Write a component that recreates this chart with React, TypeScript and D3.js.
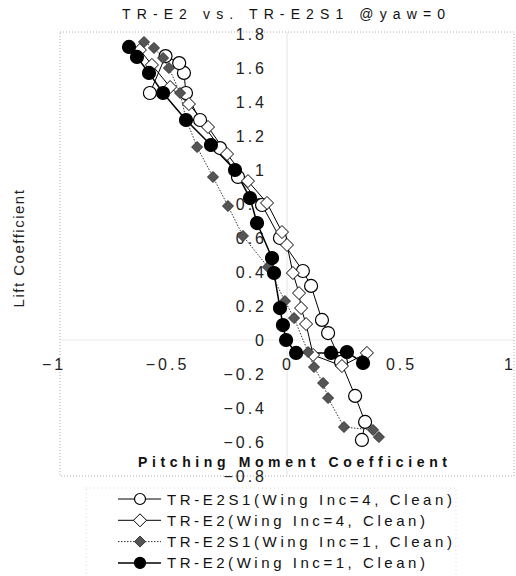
import React from 'react';
import * as d3 from 'd3';

// tick values
const xTicks = [-1, -0.5, 0, 0.5, 1];
const yTicks = [-0.8, -0.6, -0.4, -0.2, 0, 0.2, 0.4, 0.6, 0.8, 1, 1.2, 1.4, 1.6, 1.8];

// [Cm, CL] pairs
const e2s1Inc4 = [
  [0.33, -0.588], [0.344, -0.482], [0.3, -0.329], [0.238, -0.129], [0.181, 0.041],
  [0.154, 0.118], [0.106, 0.318], [0.07, 0.406], [-0.031, 0.6], [-0.11, 0.794],
  [-0.216, 0.959], [-0.295, 1.129], [-0.383, 1.294], [-0.445, 1.453], [-0.454, 1.571],
  [-0.475, 1.629], [-0.535, 1.67], [-0.604, 1.453],
];
const e2Inc4 = [
  [0.352, -0.076], [0.242, -0.153], [0.115, -0.088], [0.084, 0.094], [0.062, 0.188],
  [0.053, 0.276], [0.026, 0.394], [0.0, 0.559], [-0.022, 0.635], [-0.088, 0.806],
  [-0.172, 0.935], [-0.264, 1.094], [-0.348, 1.253], [-0.432, 1.388], [-0.515, 1.488],
  [-0.595, 1.618], [-0.648, 1.706],
];
const e2s1Inc1 = [
  [0.405, -0.571], [0.379, -0.529], [0.251, -0.512], [0.181, -0.341], [0.159, -0.253],
  [0.119, -0.159], [0.093, -0.071], [0.031, 0.129], [-0.009, 0.229], [-0.084, 0.429],
  [-0.194, 0.612], [-0.26, 0.788], [-0.326, 0.959], [-0.396, 1.135], [-0.445, 1.3],
  [-0.471, 1.453], [-0.52, 1.6], [-0.546, 1.659], [-0.586, 1.718], [-0.63, 1.753],
];
const e2Inc1 = [
  [0.335, -0.135], [0.264, -0.071], [0.194, -0.076], [0.04, -0.076], [-0.004, 0.0],
  [-0.018, 0.088], [-0.031, 0.188], [-0.057, 0.394], [-0.066, 0.482], [-0.132, 0.688],
  [-0.163, 0.835], [-0.229, 1.0], [-0.335, 1.147], [-0.445, 1.294], [-0.546, 1.453],
  [-0.608, 1.571], [-0.661, 1.665], [-0.696, 1.724],
];

const legendLabels = [
  'TR-E2S1(Wing Inc=4, Clean)',
  'TR-E2(Wing Inc=4, Clean)',
  'TR-E2S1(Wing Inc=1, Clean)',
  'TR-E2(Wing Inc=1, Clean)',
];

const W = 516;
const H = 576;
const font = 'Arial, "Liberation Sans", sans-serif';

const series = [
  { data: e2s1Inc4, marker: 'circle', fill: '#fff', stroke: '#000', width: 1, dash: null, lw: 285 },
  { data: e2Inc4, marker: 'diamond', fill: '#fff', stroke: '#000', width: 1, dash: null, lw: 258 },
  { data: e2s1Inc1, marker: 'diamond', fill: '#555', stroke: '#333', width: 1, dash: '1.5,1.5', lw: 285 },
  { data: e2Inc1, marker: 'circle', fill: '#000', stroke: '#000', width: 1.5, dash: null, lw: 258 },
];

const diamond = (h) => `M0,${-h}L${h},0L0,${h}L${-h},0Z`;

function Marker({ type, fill, stroke, x, y, small }) {
  if (type === 'circle') {
    return <circle cx={x} cy={y} r={small ? 5.5 : 6.5} fill={fill} stroke={stroke} strokeWidth={1.2} />;
  }
  const h = fill === '#fff' ? 6.5 : 5.5;
  return <path d={diamond(h)} transform={`translate(${x},${y})`} fill={fill} stroke={stroke} strokeWidth={1} />;
}

export default function App() {
  const x = d3.scaleLinear().domain([-1, 1]).range([60, 514]);
  const y = d3.scaleLinear().domain([-0.8, 1.8]).range([476, 34]);
  const line = d3.line().x((d) => x(d[0])).y((d) => y(d[1]));
  const fmt = (v) => (v === 0 ? '0' : d3.format('')(+v.toFixed(1)));
  const xShift = (t) => (t < 0 ? -6 : t === 1 ? -4 : 1);

  return (
    <svg width={W} height={H} style={{ position: 'absolute', left: 0, top: 0, display: 'block', background: '#fff' }}>
      <text x={122} y={19} textLength={323} lengthAdjust="spacing" fontFamily={font} fontSize={14} fill="#111">
        TR-E2 vs. TR-E2S1 @yaw=0
      </text>

      {/* plot frame */}
      <rect x={60} y={32} width={454} height={444} fill="none" stroke="#999" strokeWidth={0.8} strokeDasharray="1,2" />
      <line x1={x(0)} x2={x(0)} y1={32} y2={476} stroke="#ddd" strokeWidth={0.8} />
      <line x1={60} x2={514} y1={y(0)} y2={y(0)} stroke="#e6e6e6" strokeWidth={0.8} />

      {/* y tick labels */}
      {yTicks.map((t) => (
        <text key={'y' + t} x={267} y={y(t) + 5.5} textAnchor="end" fontFamily={font} fontSize={16} letterSpacing={3} fill="#222">
          {fmt(t)}
        </text>
      ))}
      {/* x tick labels */}
      {xTicks.map((t) => (
        <text key={'x' + t} x={x(t) + xShift(t)} y={y(0) + 30} textAnchor="middle" fontFamily={font} fontSize={16} letterSpacing={3} fill="#222">
          {fmt(t)}
        </text>
      ))}

      <text transform="translate(24,248) rotate(-90)" textAnchor="middle" fontFamily={font} fontSize={15} letterSpacing={1.5} fill="#222">
        Lift Coefficient
      </text>
      <text x={138} y={467} textLength={309} lengthAdjust="spacing" fontFamily={font} fontSize={14} fontWeight="bold" fill="#111">
        Pitching Moment Coefficient
      </text>

      {/* series lines */}
      {series.map((s, i) => (
        <path key={'s' + i} d={line(s.data)} fill="none" stroke={s.stroke} strokeWidth={s.width} strokeDasharray={s.dash || undefined} />
      ))}
      {/* series markers */}
      {series.map((s, i) => (
        <g key={'m' + i}>
          {s.data.map((d, j) => (
            <Marker key={j} type={s.marker} fill={s.fill} stroke={s.stroke} x={x(d[0])} y={y(d[1])} />
          ))}
        </g>
      ))}

      {/* legend */}
      <rect x={86} y={488} width={370} height={95} fill="none" stroke="#ccc" strokeWidth={0.8} strokeDasharray="1,3" />
      {series.map((s, i) => {
        const ly = 499 + i * 21.3;
        return (
          <g key={'l' + i}>
            <line x1={118} x2={161} y1={ly} y2={ly} stroke={s.stroke} strokeWidth={s.width} strokeDasharray={s.dash || undefined} />
            <Marker type={s.marker} fill={s.fill} stroke={s.stroke} x={140} y={ly} small />
            <text x={167} y={ly + 5.5} textLength={s.lw} lengthAdjust="spacing" fontFamily={font} fontSize={15} fill="#111">
              {legendLabels[i]}
            </text>
          </g>
        );
      })}
    </svg>
  );
}
